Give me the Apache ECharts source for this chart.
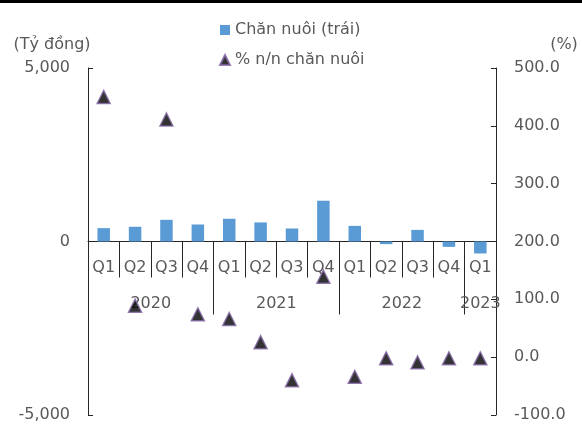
<!DOCTYPE html>
<html>
<head>
<meta charset="utf-8">
<style>
  html, body { margin: 0; padding: 0; background: #fff; }
  #chart { width: 582px; height: 424px; }
</style>
<script src="https://cdn.jsdelivr.net/npm/echarts@6/dist/echarts.min.js"></script>
</head>
<body>
<div id="chart"></div>
<script>
// Quarterly livestock credit change (bars, left axis) and y/y growth (triangles, right axis)
const quarters = ['Q1', 'Q2', 'Q3', 'Q4', 'Q1', 'Q2', 'Q3', 'Q4', 'Q1', 'Q2', 'Q3', 'Q4', 'Q1'];
const yearLabels = ['2020', '2021', '2022', '2023'];
const quartersPerYear = [4, 4, 4, 1];

const livestockValues = [385, 425, 625, 490, 655, 550, 375, 1175, 450, -75, 335, -155, -345];
const yoyGrowth = [450, 89, 411, 74, 66, 26, -40, 139, -34, -2, -9, -2, -2];

const leftTicks = { min: -5000, max: 5000, interval: 5000 };
const rightTicks = { min: -100, max: 500, interval: 100 };

const seriesNames = ['Chăn nuôi (trái)', '% n/n chăn nuôi'];
const leftUnit = '(Tỷ đồng)';
const rightUnit = '(%)';

// Year group boundaries and centres on a 0..N scale matching the category bands
const yearBounds = [];
const yearCentres = [];
let acc = 0;
quartersPerYear.forEach(function (n) {
  yearCentres.push(acc + n / 2);
  acc += n;
  yearBounds.push(acc);
});
yearBounds.pop();

const FONT = 'DejaVu Sans';
const TEXT = '#595959';
const LINE = '#262626';

const chart = echarts.init(document.getElementById('chart'), null, { renderer: 'canvas' });

chart.setOption({
  animation: false,
  backgroundColor: '#fff',
  textStyle: { fontFamily: FONT },
  graphic: [{
    type: 'rect',
    left: 0, top: 0,
    shape: { width: 582, height: 3 },
    style: { fill: '#000' }
  }],
  legend: {
    orient: 'vertical',
    left: 214,
    top: 17,
    itemWidth: 10,
    itemHeight: 10,
    itemGap: 14,
    textStyle: { color: TEXT, fontSize: 16, fontFamily: FONT },
    data: [
      { name: seriesNames[0], icon: 'rect' },
      { name: seriesNames[1], icon: 'triangle' }
    ]
  },
  grid: {
    left: 88, right: 86, top: 68, bottom: 9,
    containLabel: false,
    outerBoundsMode: 'none'
  },
  xAxis: [{
    type: 'category',
    position: 'bottom',
    data: quarters,
    boundaryGap: true,
    axisLine: { onZero: true, onZeroAxisIndex: 0, lineStyle: { color: LINE, width: 1 } },
    axisTick: { show: true, interval: 0, length: 36, lineStyle: { color: LINE } },
    // labels are laid out from the grid's bottom edge, so the margin lifts them up under the zero line
    axisLabel: { show: true, interval: 0, hideOverlap: false, margin: -155, color: TEXT, fontSize: 16, fontFamily: FONT },
    splitLine: { show: false }
  }, {
    type: 'value',
    position: 'bottom',
    min: 0,
    max: quarters.length,
    axisLine: { show: false, onZero: true, onZeroAxisIndex: 0 },
    axisTick: { show: true, customValues: yearBounds, length: 73, lineStyle: { color: LINE } },
    axisLabel: {
      show: true,
      customValues: yearCentres,
      margin: -119,
      color: TEXT, fontSize: 16, fontFamily: FONT,
      formatter: function (v) {
        const i = yearCentres.indexOf(v);
        return i >= 0 ? yearLabels[i] : '';
      }
    },
    splitLine: { show: false }
  }],
  yAxis: [{
    type: 'value',
    position: 'left',
    min: leftTicks.min, max: leftTicks.max, interval: leftTicks.interval,
    name: leftUnit,
    nameLocation: 'end',
    nameGap: 23,
    nameTextStyle: { color: TEXT, fontSize: 16, fontFamily: FONT, align: 'center', verticalAlign: 'middle', padding: [0, 72, 0, 0] },
    axisLine: { show: true, lineStyle: { color: LINE } },
    axisTick: { show: true, inside: true, length: 5, lineStyle: { color: LINE } },
    axisLabel: {
      margin: 18, color: TEXT, fontSize: 16, fontFamily: FONT,
      formatter: function (v) { return v.toLocaleString('en-US'); }
    },
    splitLine: { show: false }
  }, {
    type: 'value',
    position: 'right',
    min: rightTicks.min, max: rightTicks.max, interval: rightTicks.interval,
    name: rightUnit,
    nameLocation: 'end',
    nameGap: 23,
    nameTextStyle: { color: TEXT, fontSize: 16, fontFamily: FONT, align: 'center', verticalAlign: 'middle', padding: [0, 0, 0, 136] },
    axisLine: { show: true, lineStyle: { color: LINE } },
    axisTick: { show: true, inside: true, length: 5, lineStyle: { color: LINE } },
    axisLabel: {
      margin: 18, color: TEXT, fontSize: 16, fontFamily: FONT,
      formatter: function (v) { return v.toFixed(1); }
    },
    splitLine: { show: false }
  }],
  series: [{
    name: seriesNames[0],
    type: 'bar',
    xAxisIndex: 0,
    yAxisIndex: 0,
    barWidth: 12.5,
    itemStyle: { color: '#5B9BD5' },
    data: livestockValues
  }, {
    name: seriesNames[1],
    type: 'scatter',
    xAxisIndex: 0,
    yAxisIndex: 1,
    symbol: 'triangle',
    symbolSize: 13,
    itemStyle: { color: '#000', borderColor: '#8064A2', borderWidth: 1.5 },
    z: 3,
    data: yoyGrowth
  }]
});
</script>
</body>
</html>
